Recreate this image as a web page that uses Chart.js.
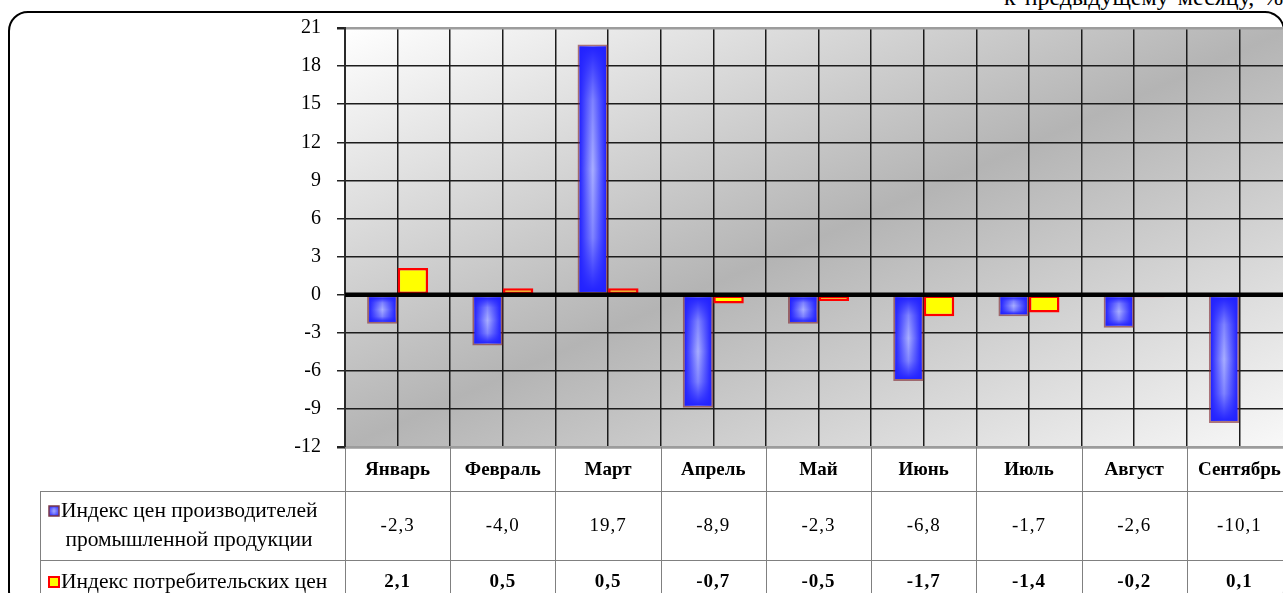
<!DOCTYPE html>
<html lang="ru">
<head>
<meta charset="utf-8">
<script src="https://cdn.jsdelivr.net/npm/chart.js@4.4.1/dist/chart.umd.min.js"></script>
<style>
  html, body { margin: 0; padding: 0; background: #fff; overflow: hidden; }
  #wrap { position: relative; width: 1283px; height: 593px; overflow: hidden; }
  #frame {
    position: absolute; left: 8px; top: 11px; width: 1277px; height: 600px;
    border: 2px solid #000; border-radius: 20px; box-sizing: border-box;
  }
  #subtitle {
    position: absolute; left: 1004px; top: -15px; white-space: nowrap;
    font: 24px "Liberation Serif", serif; line-height: 24px; word-spacing: 3px; color: #000;
  }
  canvas { position: absolute; left: 0; top: 0; }
</style>
</head>
<body>
<div id="wrap">
  <div id="frame"></div>
  <div id="subtitle">к предыдущему месяцу, %</div>
  <canvas id="chart" width="1300" height="593"></canvas>
</div>
<script>
// monthly change, % to previous month
const months = ['Январь', 'Февраль', 'Март', 'Апрель', 'Май', 'Июнь', 'Июль', 'Август', 'Сентябрь'];
const producerIdx = [-2.3, -4.0, 19.7, -8.9, -2.3, -6.8, -1.7, -2.6, -10.1];
const consumerIdx = [2.1, 0.5, 0.5, -0.7, -0.5, -1.7, -1.4, -0.2, 0.1];
const seriesNames = [
  ['Индекс цен производителей', 'промышленной продукции'],
  ['Индекс потребительских цен']
];
const yTicks = { min: -12, max: 21, step: 3 };

const SERIF = '"Liberation Serif", "Times New Roman", serif';
const fmt = v => v.toFixed(1).replace('.', ',');

// blue fill: light in the middle, darker towards every edge
function shadeBox(ctx, l, t, r, b, edge, mid) {
  const h = ctx.createLinearGradient(l, 0, r, 0);
  h.addColorStop(0, edge);
  h.addColorStop(0.5, mid);
  h.addColorStop(1, edge);
  ctx.fillStyle = h;
  ctx.fillRect(l, t, r - l, b - t);
  const v = ctx.createLinearGradient(0, t, 0, b);
  v.addColorStop(0, 'rgba(34,34,255,1)');
  v.addColorStop(0.22, 'rgba(34,34,255,0.3)');
  v.addColorStop(0.5, 'rgba(34,34,255,0)');
  v.addColorStop(0.78, 'rgba(34,34,255,0.3)');
  v.addColorStop(1, 'rgba(34,34,255,1)');
  ctx.fillStyle = v;
  ctx.fillRect(l, t, r - l, b - t);
}

const plotBackground = {
  id: 'plotBackground',
  beforeDraw(chart) {
    const { ctx, chartArea: a } = chart;
    const w = a.right - a.left, h = a.bottom - a.top;
    const t = 2 * w * h / (w * w + h * h);
    const g = ctx.createLinearGradient(a.left, a.top, a.left + t * h, a.top + t * w);
    g.addColorStop(0, '#ffffff');
    g.addColorStop(0.5, '#b4b4b4');
    g.addColorStop(1, '#f9f9f9');
    ctx.save();
    ctx.fillStyle = g;
    ctx.fillRect(a.left, a.top, w, h);
    ctx.restore();
  }
};

const barShading = {
  id: 'barShading',
  afterDatasetDraw(chart, args) {
    if (args.index !== 0) return;
    const { ctx } = chart;
    const bw = chart.data.datasets[0].borderWidth;
    ctx.save();
    args.meta.data.forEach(el => {
      const p = el.getProps(['x', 'y', 'base', 'width'], true);
      const l = p.x - p.width / 2 + bw, r = p.x + p.width / 2 - bw;
      const t = Math.min(p.y, p.base) + bw, b = Math.max(p.y, p.base) - bw;
      if (b > t) shadeBox(ctx, l, t, r, b, '#2222ff', '#a8aeff');
    });
    ctx.restore();
  }
};

const zeroLine = {
  id: 'zeroLine',
  afterDatasetsDraw(chart) {
    const { ctx, chartArea: a, scales: { y } } = chart;
    const y0 = y.getPixelForValue(0);
    ctx.save();
    ctx.strokeStyle = '#000';
    ctx.lineWidth = 4.5;
    ctx.beginPath();
    ctx.moveTo(a.left, y0);
    ctx.lineTo(a.right, y0);
    ctx.stroke();
    ctx.restore();
  }
};

const dataTable = {
  id: 'dataTable',
  afterDraw(chart) {
    const { ctx, chartArea: a, scales: { x } } = chart;
    const H = chart.height;
    const tableLeft = 40;
    const row1Top = a.bottom + 44, row2Top = row1Top + 69;
    const rows = [producerIdx, consumerIdx];
    ctx.save();
    ctx.strokeStyle = '#808080';
    ctx.lineWidth = 1;
    ctx.beginPath();
    for (let i = 0; i <= months.length; i++) {
      const bx = Math.round(x.getPixelForValue(i - 0.5)) + 0.5;
      ctx.moveTo(bx, a.bottom);
      ctx.lineTo(bx, H);
    }
    [row1Top, row2Top].forEach(yy => {
      ctx.moveTo(tableLeft, Math.round(yy) + 0.5);
      ctx.lineTo(a.right, Math.round(yy) + 0.5);
    });
    ctx.moveTo(tableLeft + 0.5, row1Top);
    ctx.lineTo(tableLeft + 0.5, H);
    ctx.stroke();

    // values
    ctx.fillStyle = '#000';
    ctx.textAlign = 'center';
    ctx.textBaseline = 'middle';
    ctx.letterSpacing = '1px';
    const centers = [row1Top + 35, row2Top + 22];
    rows.forEach((vals, r) => {
      ctx.font = (r === 1 ? 'bold ' : '') + '19px ' + SERIF;
      vals.forEach((v, i) => ctx.fillText(fmt(v), x.getPixelForValue(i), centers[r]));
    });
    ctx.letterSpacing = '0px';

    // legend keys
    const keyX = 49, key = 10;
    const row1Lines = [row1Top + 20, row1Top + 49];
    shadeBox(ctx, keyX, row1Lines[0] - key / 2, keyX + key, row1Lines[0] + key / 2, '#4a4aff', '#a8aeff');
    ctx.strokeStyle = '#7a3848';
    ctx.lineWidth = 1.5;
    ctx.strokeRect(keyX, row1Lines[0] - key / 2, key, key);
    ctx.fillStyle = '#ffff00';
    ctx.fillRect(keyX, centers[1] - key / 2, key, key);
    ctx.strokeStyle = '#ff0000';
    ctx.lineWidth = 2;
    ctx.strokeRect(keyX, centers[1] - key / 2, key, key);

    ctx.fillStyle = '#000';
    ctx.font = '21.5px ' + SERIF;
    ctx.textAlign = 'left';
    ctx.fillText(seriesNames[0][0], keyX + key + 2, row1Lines[0]);
    ctx.textAlign = 'center';
    ctx.fillText(seriesNames[0][1], 189, row1Lines[1]);
    ctx.textAlign = 'left';
    ctx.fillText(seriesNames[1][0], keyX + key + 2, centers[1]);
    ctx.restore();
  }
};

const edge = v => v === yTicks.min || v === yTicks.max;

new Chart(document.getElementById('chart'), {
  type: 'bar',
  data: {
    labels: months,
    datasets: [
      {
        label: seriesNames[0].join(' '),
        data: producerIdx,
        backgroundColor: 'rgba(0,0,0,0)',
        borderColor: 'rgba(125,35,45,0.6)',
        borderWidth: 2,
        borderSkipped: false,
        categoryPercentage: 0.58,
        barPercentage: 1
      },
      {
        label: seriesNames[1][0],
        data: consumerIdx,
        backgroundColor: '#ffff00',
        borderColor: '#ff0000',
        borderWidth: 2.5,
        borderSkipped: false,
        categoryPercentage: 0.58,
        barPercentage: 1
      }
    ]
  },
  options: {
    responsive: false,
    animation: false,
    layout: { padding: { left: 0, top: 24, right: 8, bottom: 0 } },
    plugins: { legend: { display: false }, tooltip: { enabled: false } },
    scales: {
      x: {
        offset: true,
        grid: { offset: true, color: '#1c1c1c', lineWidth: 1.5, drawTicks: false },
        border: { display: true, color: '#9c9c9c', width: 2.5 },
        ticks: { color: '#000', padding: 12, font: { family: SERIF, size: 19, weight: 'bold' }, maxRotation: 0 },
        afterFit: s => { s.height = 146; }
      },
      x2: {
        type: 'category',
        position: 'bottom',
        offset: true,
        grid: { offset: false, color: '#1c1c1c', lineWidth: 1.5, drawTicks: false },
        border: { display: false },
        ticks: { display: false },
        afterFit: s => { s.height = 0; }
      },
      y: {
        min: yTicks.min,
        max: yTicks.max,
        ticks: {
          stepSize: yTicks.step,
          color: '#000',
          padding: 16,
          font: { family: SERIF, size: 20 }
        },
        grid: {
          color: c => edge(c.tick.value) ? '#9c9c9c' : '#1c1c1c',
          lineWidth: c => edge(c.tick.value) ? 2.5 : 1.5,
          tickLength: 8,
          tickColor: '#222'
        },
        border: { display: true, color: '#2a2a2a', width: 2 },
        afterFit: s => { s.width = 345; }
      }
    }
  },
  plugins: [plotBackground, barShading, zeroLine, dataTable]
});
</script>
</body>
</html>
